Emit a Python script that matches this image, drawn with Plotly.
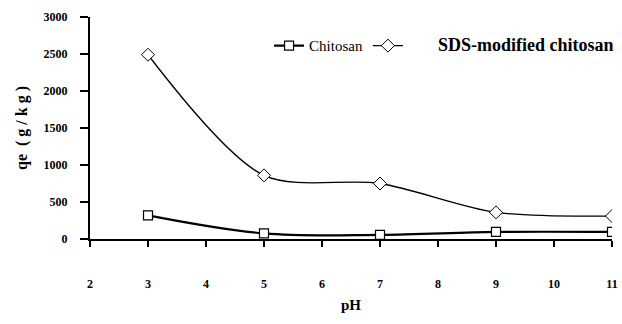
import plotly.graph_objects as go

ph = [3, 5, 7, 9, 11]
chitosan = [320, 75, 55, 95, 95]
sds_chitosan = [2490, 860, 750, 360, 310]
x_ticks = [2, 3, 4, 5, 6, 7, 8, 9, 10, 11]
y_ticks = [0, 500, 1000, 1500, 2000, 2500, 3000]
x_ticktext = ["<b>%d</b>" % v for v in x_ticks]
y_ticktext = ["<b>%d</b>" % v for v in y_ticks]

font_family = "'Liberation Serif', 'Times New Roman', serif"

fig = go.Figure()
fig.add_trace(go.Scatter(
    x=ph, y=chitosan, name="Chitosan", mode="lines+markers",
    line=dict(color="black", width=2.2, shape="spline", smoothing=1.0),
    marker=dict(symbol="square", size=9, color="white", line=dict(color="black", width=1.2)),
))
fig.add_trace(go.Scatter(
    x=ph, y=sds_chitosan,
    name="&nbsp;" * 8 + "<span style='font-size:18px'><b>SDS-modified chitosan</b></span>",
    mode="lines+markers",
    line=dict(color="black", width=1.3, shape="spline", smoothing=0.85),
    marker=dict(symbol="diamond", size=10, color="white", line=dict(color="black", width=1)),
))

fig.update_layout(
    width=622, height=324,
    margin=dict(l=90, r=10, t=17, b=85, autoexpand=False),
    paper_bgcolor="white", plot_bgcolor="white",
    font=dict(family=font_family, size=12, color="black"),
    showlegend=True,
    legend=dict(orientation="h", x=0.343, xanchor="left", y=0.87, yanchor="middle",
                font=dict(size=15, family=font_family),
                bgcolor="rgba(0,0,0,0)", itemwidth=30, tracegroupgap=0),
    xaxis=dict(range=[2, 11], tickvals=x_ticks, ticktext=x_ticktext, showgrid=False, zeroline=False,
               showline=True, linecolor="black", linewidth=2, automargin=False,
               ticks="outside", ticklen=6, tickwidth=1.5, tickcolor="black",
               ticklabelstandoff=27,
               tickfont=dict(size=12, family=font_family),
               title=dict(text="<b>pH</b>", font=dict(size=15, family=font_family), standoff=9)),
    yaxis=dict(range=[0, 3000], tickvals=y_ticks, ticktext=y_ticktext, showgrid=False, zeroline=False,
               showline=True, linecolor="black", linewidth=2, automargin=False,
               ticks="outside", ticklen=8, tickwidth=1.5, tickcolor="black",
               ticklabelstandoff=10,
               tickfont=dict(size=12, family=font_family),
               title=dict(text="<b>qe  ( g / k g )</b>", font=dict(size=16, family=font_family), standoff=12)),
)

fig.write_html("out.html")
